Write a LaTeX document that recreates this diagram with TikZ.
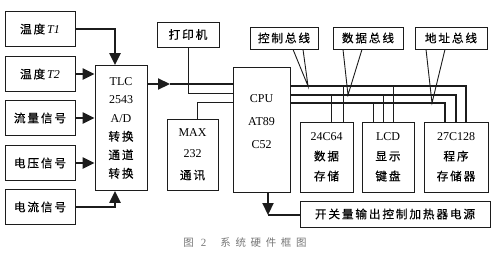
\documentclass[tikz,border=0pt]{standalone}
\usepackage{fontspec}
\setmainfont{Liberation Serif}
\newfontfamily\zh[Scale=0.97,LetterSpace=16,FakeBold=0.4]{Noto Sans CJK SC}
\newfontfamily\zhcap[Scale=0.95,LetterSpace=45]{Noto Sans CJK SC}
\usetikzlibrary{arrows.meta,positioning,calc}
\definecolor{ink}{HTML}{1C1C1C}
\definecolor{capgray}{HTML}{767676}
\tikzset{box/.style={draw=ink,line width=0.8pt,fill=white,align=center,
  inner sep=1pt,font=\fontsize{12}{18}\selectfont},
  sensor/.style={box,minimum width=70pt,minimum height=35pt},
  tagbox/.style={box,minimum height=22pt},
  memo/.style={box,minimum height=70pt,font=\fontsize{12}{20}\selectfont},
  flow/.style={-{Triangle[length=12pt,width=11pt]},line width=2.2pt,draw=ink},
  bus/.style={line width=1.6pt,draw=ink},
  tap/.style={line width=0.9pt,draw=ink}}
\begin{document}
\begin{tikzpicture}[x=1pt,y=-1pt]
\useasboundingbox (0,0) rectangle (500,254);
% input signals
\node[sensor] (t1) at (40,29) {{\zh 温度}\,\textit{T1}};
\node[sensor] (t2) at (40,74) {{\zh 温度}\,\textit{T2}};
\node[sensor] (flw) at (40,118) {\zh 流量信号};
\node[sensor] (vol) at (40,163) {\zh 电压信号};
\node[sensor] (cur) at (40,207) {\zh 电流信号};
\node[box,minimum width=52pt,minimum height=125pt,font=\fontsize{12}{18.5}\selectfont] (tlc) at (121,128)
  {TLC\\2543\\A/D\\{\zh 转换}\\{\zh 通道}\\{\zh 转换}};
% processor and peripherals
\node[box,minimum width=57pt,minimum height=125pt,
  label={[yshift=8pt,align=center,font=\fontsize{12}{23}\selectfont]center:CPU\\AT89\\C52}] (cpu) at (261.5,129.5) {};
\node[tagbox,minimum width=62pt,minimum height=25pt] (prn) at (188,34.5) {\zh 打印机};
\node[box,minimum width=51pt,minimum height=71pt,font=\fontsize{12}{21.5}\selectfont] (max) at (192.5,154.5)
  {MAX\\232\\{\zh 通讯}};
\node[memo,minimum width=53pt] (eep) at (326.5,157) {24C64\\{\zh 数据}\\{\zh 存储}};
\node[memo,minimum width=52pt] (lcd) at (388,157) {LCD\\{\zh 显示}\\{\zh 键盘}};
\node[memo,minimum width=64pt] (rom) at (456,157) {27C128\\{\zh 程序}\\{\zh 存储器}};
\node[box,minimum width=190pt,minimum height=26pt] (out) at (395,214) {\zh 开关量输出控制加热器电源};
% bus labels
\node[tagbox,minimum width=68pt] (ctl) at (284,38) {\zh 控制总线};
\node[tagbox,minimum width=70pt] (dat) at (368,38) {\zh 数据总线};
\node[tagbox,minimum width=72pt] (adr) at (451,38) {\zh 地址总线};
\node[font=\fontsize{11}{13}\selectfont,text=capgray] (cap) at (245,243)
  {{\zhcap 图}\hspace{7pt}2\hspace{14pt}{\zhcap 系统硬件框图}};
% inputs into the converter
\draw[flow] (t1.east) -| (tlc.north -| 115,0);
\draw[flow] (t2.east) -- (t2.east -| tlc.west);
\draw[flow] (flw.east) -- (flw.east -| tlc.west);
\draw[flow] (vol.east) -- (vol.east -| tlc.west);
\draw[flow] (cur.east) -| (tlc.south -| 115,0);
% converter to cpu
\coordinate (tip) at (170,84);
\draw[flow] (tlc.east |- tip) -- (tip);
\draw[bus] (tip) -- (tip -| cpu.west);
\coordinate (pj) at (188,93);
\draw[tap] (prn.south) -- (pj) -- (pj -| cpu.west);
\coordinate (mj) at (197,102);
\draw[tap] (mj -| cpu.west) -- (mj) -- (mj |- max.north);
% three buses
\coordinate (r1) at (466,86);
\coordinate (r2) at (456,95);
\coordinate (r3) at (445,103);
\draw[bus] (cpu.east |- r1) -- (r1) -- (r1 |- rom.north);
\draw[bus] (cpu.east |- r2) -- (r2) -- (r2 |- rom.north);
\draw[bus] (cpu.east |- r3) -- (r3) -- (r3 |- rom.north);
\foreach \xx/\rr in {331/r2,343/r1}
  \draw[tap] (\xx,0 |- \rr) -- (\xx,0 |- eep.north);
\foreach \xx/\rr in {373/r3,383/r2,393/r1}
  \draw[tap] (\xx,0 |- \rr) -- (\xx,0 |- lcd.north);
% label pointers
\draw[tap] ($(ctl.south)+(9,0)$) -- (308,86) -- ($(ctl.south)+(19,0)$);
\draw[tap] ($(dat.south)+(-25,0)$) -- (348,95) -- ($(dat.south)+(-6,0)$);
\draw[tap] ($(adr.south)+(-25,0)$) -- (432,103) -- ($(adr.south)+(-6,0)$);
% switch output
\coordinate (dn) at (268,215);
\draw[flow] (cpu.south -| dn) -- (dn);
\draw[bus] (dn) -- (dn -| out.west);
\end{tikzpicture}
\end{document}
